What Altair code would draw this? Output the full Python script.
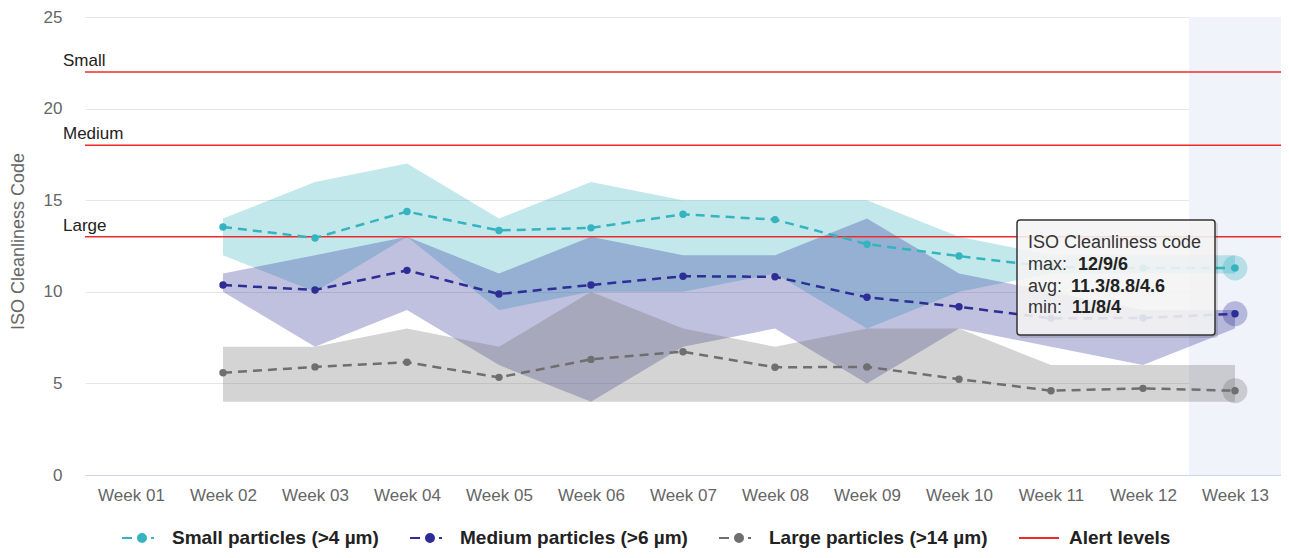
import altair as alt
import pandas as pd

weeks = ["Week 01", "Week 02", "Week 03", "Week 04", "Week 05", "Week 06", "Week 07",
         "Week 08", "Week 09", "Week 10", "Week 11", "Week 12", "Week 13"]

series_names = ["Small particles (>4 µm)", "Medium particles (>6 µm)", "Large particles (>14 µm)"]
series_colors = ["#35b4bf", "#2d2d96", "#6f6f6f"]

small_avg = [None, 13.54, 12.94, 14.38, 13.35, 13.49, 14.23, 13.94, 12.6, 11.95, 11.35, 11.3, 11.3]
small_max = [None, 14, 16, 17, 14, 16, 15, 15, 15, 13, 12, 12, 12]
small_min = [None, 12, 10, 13, 9, 10, 10, 11, 8, 10, 11, 11, 11]

medium_avg = [None, 10.37, 10.1, 11.17, 9.88, 10.37, 10.85, 10.82, 9.7, 9.18, 8.55, 8.57, 8.8]
medium_max = [None, 11, 12, 13, 11, 13, 12, 12, 14, 11, 10, 9, 9]
medium_min = [None, 10, 7, 9, 6, 4, 7, 8, 5, 8, 7, 6, 8]

large_avg = [None, 5.58, 5.9, 6.15, 5.33, 6.31, 6.73, 5.88, 5.9, 5.23, 4.6, 4.73, 4.6]
large_max = [None, 7, 7, 8, 7, 10, 8, 7, 8, 8, 6, 6, 6]
large_min = [None, 4, 4, 4, 4, 4, 4, 4, 4, 4, 4, 4, 4]

alert_names = ["Small", "Medium", "Large"]
alert_levels = [22, 18, 13]
alert_color = "#ee2b2b"

y_ticks = [0, 5, 10, 15, 20, 25]

# ---------------- tables ----------------
rows = []
for name, avg, mn, mx in [
    (series_names[0], small_avg, small_min, small_max),
    (series_names[1], medium_avg, medium_min, medium_max),
    (series_names[2], large_avg, large_min, large_max),
]:
    for i, w in enumerate(weeks):
        if avg[i] is None:
            continue
        rows.append({"series": name, "idx": i, "week": w, "avg": avg[i], "min": mn[i], "max": mx[i]})
df = pd.DataFrame(rows)
last_idx = len(weeks) - 1

alert_df = pd.DataFrame({"name": alert_names, "level": alert_levels})
hl_df = pd.DataFrame({"x0": [last_idx - 0.5], "x1": [last_idx + 0.5], "top": [25], "bot": [0]})

W, H = 1196, 458
FONT = "Liberation Sans"

xscale = alt.Scale(domain=[-0.5, len(weeks) - 0.5], nice=False, zero=False)
yscale = alt.Scale(domain=[0, 25], nice=False)
cscale = alt.Scale(domain=series_names, range=series_colors)

label_expr = "[" + ",".join("'" + w + "'" for w in weeks) + "][round(datum.value)]"

x_axis = alt.Axis(values=list(range(len(weeks))), labelExpr=label_expr, grid=False,
                  ticks=False, domainColor="#ccd6eb", domainWidth=1, labelColor="#666666",
                  labelFontSize=17, labelPadding=12, title=None, labelFont=FONT)
y_axis = alt.Axis(values=y_ticks, grid=True, gridColor="#e6e6e6", domain=False, ticks=False,
                  labelColor="#666666", labelFontSize=17, labelPadding=23, labelFont=FONT,
                  title="ISO Cleanliness Code", titleColor="#666666", titleFontSize=18,
                  titleFontWeight="normal", titleFont=FONT, titleX=-67, titleY=224,
                  titleAngle=-90, titleAlign="center", titleBaseline="middle")

highlight = alt.Chart(hl_df).mark_rect(color="#f0f3f9").encode(
    x=alt.X("x0:Q", scale=xscale, axis=x_axis), x2="x1:Q",
    y=alt.Y("top:Q", scale=yscale, axis=y_axis), y2="bot:Q",
)

areas = alt.Chart(df).mark_area(opacity=0.3).encode(
    x=alt.X("idx:Q", scale=xscale),
    y=alt.Y("max:Q", scale=yscale),
    y2="min:Q",
    color=alt.Color("series:N", scale=cscale, legend=None),
)

alert_rules = alt.Chart(alert_df).mark_rule(color=alert_color, strokeWidth=1.5).encode(
    y=alt.Y("level:Q", scale=yscale),
)
alert_text = alt.Chart(alert_df).mark_text(align="left", baseline="alphabetic", dy=-6,
                                           fontSize=17, font=FONT, color="#222222").encode(
    x=alt.value(-22), y=alt.Y("level:Q", scale=yscale), text="name:N",
)

lines = alt.Chart(df).mark_line(strokeDash=[9, 6], strokeWidth=2.5).encode(
    x=alt.X("idx:Q", scale=xscale), y=alt.Y("avg:Q", scale=yscale),
    color=alt.Color("series:N", scale=cscale, legend=None),
)

halos = alt.Chart(df[df["idx"] == last_idx]).mark_circle(size=620, opacity=0.3).encode(
    x=alt.X("idx:Q", scale=xscale), y=alt.Y("avg:Q", scale=yscale),
    color=alt.Color("series:N", scale=cscale, legend=None),
)

points = alt.Chart(df).mark_circle(size=55, opacity=1).encode(
    x=alt.X("idx:Q", scale=xscale), y=alt.Y("avg:Q", scale=yscale),
    color=alt.Color("series:N", scale=cscale, legend=None),
)

# ---------------- tooltip ----------------
def fmt(v):
    return ("%g" % v)

tip_title = "ISO Cleanliness code"
tip_rows = [
    ("max:", "/".join(fmt(a[last_idx]) for a in (small_max, medium_max, large_max))),
    ("avg:", "/".join(fmt(a[last_idx]) for a in (small_avg, medium_avg, large_avg))),
    ("min:", "/".join(fmt(a[last_idx]) for a in (small_min, medium_min, large_min))),
]
tip_df = pd.DataFrame({"t": [0]})
tip_shadow = alt.Chart(tip_df).mark_rect(color="#000000", opacity=0.12, cornerRadius=3).encode(
    x=alt.value(934), x2=alt.value(1133), y=alt.value(205), y2=alt.value(321))
tip_box = alt.Chart(tip_df).mark_rect(fill="#f7f7f7", fillOpacity=0.88, stroke="#333333",
                                      strokeWidth=1.5, cornerRadius=3).encode(
    x=alt.value(932), x2=alt.value(1130), y=alt.value(203), y2=alt.value(318))
tip_layers = [tip_shadow, tip_box,
              alt.Chart(tip_df).mark_text(align="left", baseline="middle", fontSize=18, font=FONT,
                                          color="#333333", text=tip_title).encode(
                  x=alt.value(943), y=alt.value(226))]
value_x = [993, 986, 987]
for k, (lab, val) in enumerate(tip_rows):
    yy = 248 + k * 21.7
    tip_layers.append(alt.Chart(tip_df).mark_text(align="left", baseline="middle", fontSize=18,
                                                  font=FONT, color="#333333", text=lab).encode(
        x=alt.value(943), y=alt.value(yy)))
    tip_layers.append(alt.Chart(tip_df).mark_text(align="left", baseline="middle", fontSize=18,
                                                  font=FONT, fontWeight="bold", color="#222222",
                                                  text=val).encode(
        x=alt.value(value_x[k]), y=alt.value(yy)))

# ---------------- legend ----------------
legend_domain = series_names + ["Alert levels"]
legend_colors = series_colors + [alert_color]
dot_path = "M-1,0L0,0M1.9,0L2.2,0M1.4,0A0.4,0.4,0,1,1,0.6,0A0.4,0.4,0,1,1,1.4,0Z"
line_path = "M-1,0L3,0"
legend_shapes = [dot_path, dot_path, dot_path, line_path]
leg_df = pd.DataFrame({"series": legend_domain, "yy": [None] * 4})

leg = alt.Legend(title=None, orient="none", legendX=36, legendY=510, direction="horizontal",
                 symbolSize=400, symbolStrokeWidth=2, labelOffset=29, columnPadding=27,
                 labelFont=FONT, labelFontSize=19, labelFontWeight="bold", labelColor="#222222",
                 padding=0, symbolOpacity=1, labelLimit=400)
legend_layer = alt.Chart(leg_df).mark_point(filled=True, opacity=1, strokeWidth=2).encode(
    y=alt.Y("yy:Q", scale=yscale),
    fill=alt.Fill("series:N", scale=alt.Scale(domain=legend_domain, range=legend_colors), legend=leg),
    stroke=alt.Stroke("series:N", scale=alt.Scale(domain=legend_domain, range=legend_colors), legend=leg),
    shape=alt.Shape("series:N", scale=alt.Scale(domain=legend_domain, range=legend_shapes), legend=leg),
)

chart = alt.layer(
    highlight, areas, alert_rules, alert_text, lines, halos, points, legend_layer, *tip_layers
).resolve_scale(color="independent").properties(
    width=W, height=H,
    autosize=alt.AutoSizeParams(type="none"),
    padding={"left": 77, "top": 9, "right": 0, "bottom": 73},
).configure(font=FONT, background="white", view=alt.ViewConfig(stroke=None))

chart.save("out.html", embed_options={"renderer": "svg", "actions": False})
